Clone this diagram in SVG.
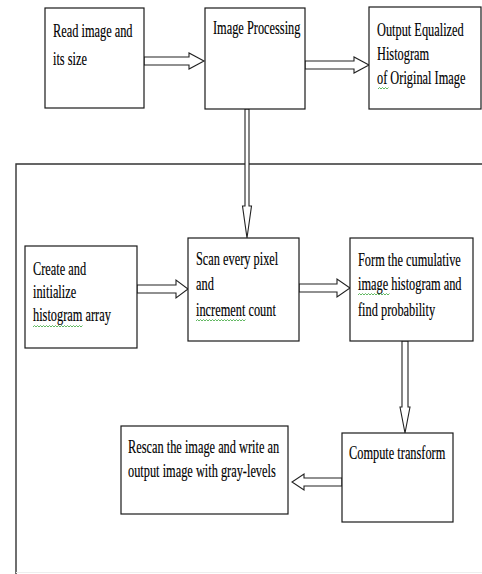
<svg xmlns="http://www.w3.org/2000/svg" width="482" height="574" viewBox="0 0 482 574">
<style>
.box{fill:#fff;stroke:#1a1a1a;stroke-width:1.2}
.t{font-family:"Liberation Serif","Times New Roman",serif;font-size:19px;fill:#000;stroke:#000;stroke-width:0.15}
.arr{fill:#fff;stroke:#222;stroke-width:1.1;stroke-linejoin:miter}
.frame{fill:none;stroke:#333;stroke-width:1.4}
.sq{fill:none;stroke:#3aa63a;stroke-width:0.8}
</style>
<rect x="0" y="0" width="482" height="574" fill="#fff"/>
<g id="frame">
<path class="frame" d="M16,574 V164 H482"/>
<line x1="16" y1="572.5" x2="482" y2="572.5" stroke="#eee" stroke-width="1"/>
</g>
<g id="connectors">
<polygon class="arr" points="144,57 189,57 189,53 204,61 189,69 189,65 144,65"/>
<polygon class="arr" points="305,61 354,61 354,57 369,65 354,73 354,69 305,69"/>
<polygon class="arr" points="245,109 249,109 249,206 251.5,206 247,238 242.5,206 245,206"/>
<polygon class="arr" points="137,285 176,285 176,280 188,289 176,298 176,293 137,293"/>
<polygon class="arr" points="299,284 337,284 337,279 350,288 337,297 337,292 299,292"/>
<polygon class="arr" points="402,341 408,341 408,407 410,407 405,433 400,407 402,407"/>
<polygon class="arr" points="342,478 304,478 304,474 292,482 304,490 304,486 342,486"/>
</g>
<g id="n-read">
<rect class="box" x="45" y="8" width="99" height="100"/>
<text class="t" transform="matrix(0.65,0,0,1,53,37)">Read image and</text>
<text class="t" transform="matrix(0.65,0,0,1,53,65)">its size</text>
</g>
<g id="n-proc">
<rect class="box" x="205" y="8" width="100" height="101"/>
<text class="t" transform="matrix(0.65,0,0,1,213,34)">Image Processing</text>
</g>
<g id="n-output">
<rect class="box" x="369" y="7" width="112" height="102"/>
<text class="t" transform="matrix(0.65,0,0,1,377,36)">Output Equalized</text>
<text class="t" transform="matrix(0.65,0,0,1,377,60)">Histogram</text>
<text class="t" transform="matrix(0.65,0,0,1,377,84)">of Original Image</text>
<path class="sq" d="M378,89 l1.5,-1.5 l1.5,1.5 l1.5,-1.5 l1.5,1.5 l1.5,-1.5 l1.5,1.5 l1.5,-1.5"/>
</g>
<g id="n-create">
<rect class="box" x="25" y="246" width="112" height="102"/>
<text class="t" transform="matrix(0.65,0,0,1,33,275)">Create and</text>
<text class="t" transform="matrix(0.65,0,0,1,33,298)">initialize</text>
<text class="t" transform="matrix(0.65,0,0,1,33,321)">histogram array</text>
<path class="sq" d="M33,327 l1.5,-1.5 l1.5,1.5 l1.5,-1.5 l1.5,1.5 l1.5,-1.5 l1.5,1.5 l1.5,-1.5 l1.5,1.5 l1.5,-1.5 l1.5,1.5 l1.5,-1.5 l1.5,1.5 l1.5,-1.5 l1.5,1.5 l1.5,-1.5 l1.5,1.5 l1.5,-1.5 l1.5,1.5 l1.5,-1.5 l1.5,1.5 l1.5,-1.5 l1.5,1.5 l1.5,-1.5 l1.5,1.5 l1.5,-1.5 l1.5,1.5 l1.5,-1.5 l1.5,1.5 l1.5,-1.5 l1.5,1.5 l1.5,-1.5 l1.5,1.5 l1.5,-1.5"/>
</g>
<g id="n-scan">
<rect class="box" x="188" y="238" width="111" height="103"/>
<text class="t" transform="matrix(0.65,0,0,1,196,265)">Scan every pixel</text>
<text class="t" transform="matrix(0.65,0,0,1,196,290)">and</text>
<text class="t" transform="matrix(0.65,0,0,1,196,316)">increment count</text>
<path class="sq" d="M196,321 l1.5,-1.5 l1.5,1.5 l1.5,-1.5 l1.5,1.5 l1.5,-1.5 l1.5,1.5 l1.5,-1.5 l1.5,1.5 l1.5,-1.5 l1.5,1.5 l1.5,-1.5 l1.5,1.5 l1.5,-1.5 l1.5,1.5 l1.5,-1.5 l1.5,1.5 l1.5,-1.5 l1.5,1.5 l1.5,-1.5 l1.5,1.5 l1.5,-1.5 l1.5,1.5 l1.5,-1.5 l1.5,1.5 l1.5,-1.5 l1.5,1.5 l1.5,-1.5 l1.5,1.5 l1.5,-1.5 l1.5,1.5 l1.5,-1.5 l1.5,1.5 l1.5,-1.5"/>
</g>
<g id="n-form">
<rect class="box" x="350" y="238" width="123" height="103"/>
<text class="t" transform="matrix(0.65,0,0,1,358,266)">Form the cumulative</text>
<text class="t" transform="matrix(0.65,0,0,1,358,290)">image histogram and</text>
<text class="t" transform="matrix(0.65,0,0,1,358,316)">find probability</text>
<path class="sq" d="M358,295 l1.5,-1.5 l1.5,1.5 l1.5,-1.5 l1.5,1.5 l1.5,-1.5 l1.5,1.5 l1.5,-1.5 l1.5,1.5 l1.5,-1.5 l1.5,1.5 l1.5,-1.5 l1.5,1.5 l1.5,-1.5 l1.5,1.5 l1.5,-1.5 l1.5,1.5 l1.5,-1.5 l1.5,1.5 l1.5,-1.5 l1.5,1.5 l1.5,-1.5"/>
</g>
<g id="n-compute">
<rect class="box" x="342" y="433" width="111" height="89"/>
<text class="t" transform="matrix(0.65,0,0,1,349,459)">Compute transform</text>
</g>
<g id="n-rescan">
<rect class="box" x="121" y="426" width="167" height="88"/>
<text class="t" transform="matrix(0.65,0,0,1,128,453)">Rescan the image and write an</text>
<text class="t" transform="matrix(0.65,0,0,1,128,477)">output image with gray-levels</text>
</g>
</svg>
